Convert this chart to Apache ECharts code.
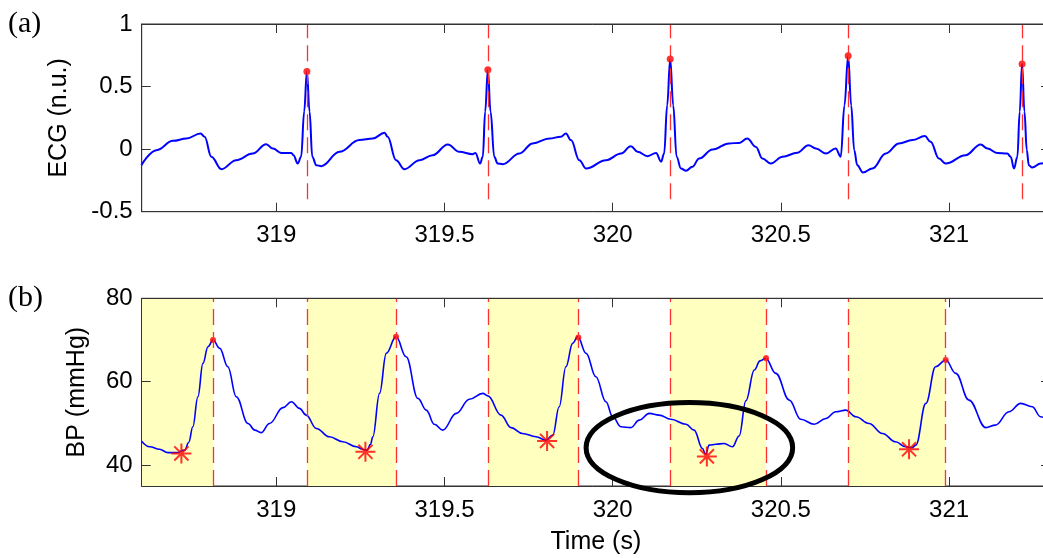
<!DOCTYPE html>
<html>
<head>
<meta charset="utf-8">
<script src="https://cdn.jsdelivr.net/npm/echarts@6/dist/echarts.min.js"></script>
<style>
html,body{margin:0;padding:0;background:#fff;}
#chart{width:1043px;height:558px;}
</style>
</head>
<body>
<div id="chart"></div>
<script>
// ---------- data ----------
const xTicks = [319, 319.5, 320, 320.5, 321];
const ecgTicks = [-0.5, 0, 0.5, 1];
const bpTicks = [40, 60, 80];

const ecgT = [318.599,318.644,318.693,318.733,318.775,318.787,318.807,318.837,318.881,318.930,318.970,318.990,319.015,319.045,319.051,319.064,319.074,319.083,319.091,319.099,319.107,319.119,319.134,319.188,319.247,319.287,319.322,319.331,319.356,319.381,319.426,319.465,319.510,319.544,319.584,319.592,319.606,319.614,319.621,319.629,319.637,319.648,319.658,319.673,319.723,319.762,319.812,319.846,319.861,319.876,319.901,319.921,319.980,320.025,320.054,320.074,320.104,320.129,320.144,320.153,320.162,320.171,320.180,320.190,320.203,320.218,320.237,320.257,320.297,320.346,320.376,320.400,320.426,320.445,320.470,320.505,320.549,320.582,320.604,320.634,320.663,320.678,320.689,320.700,320.709,320.718,320.727,320.744,320.772,320.812,320.851,320.891,320.928,320.945,320.970,320.990,321.049,321.094,321.114,321.143,321.173,321.183,321.193,321.203,321.210,321.217,321.224,321.231,321.237,321.247,321.272,321.297];
const ecgV = [-0.128,-0.008,0.066,0.085,0.125,0.099,-0.061,-0.160,-0.088,-0.035,0.040,0.005,-0.030,-0.030,-0.048,-0.115,-0.060,0.300,0.620,0.300,-0.060,-0.128,-0.136,-0.021,0.072,0.085,0.131,0.099,-0.088,-0.160,-0.088,-0.048,0.038,-0.021,-0.040,-0.030,-0.115,-0.060,0.300,0.634,0.300,-0.061,-0.115,-0.120,-0.035,0.046,0.085,0.099,0.125,0.072,-0.088,-0.155,-0.088,-0.035,0.024,-0.021,-0.056,-0.030,-0.100,-0.035,0.350,0.720,0.350,-0.061,-0.155,-0.173,-0.141,-0.075,-0.003,0.046,0.050,0.085,0.018,-0.075,-0.115,-0.061,-0.029,0.032,0.005,-0.035,0.005,-0.061,0.350,0.746,0.350,-0.008,-0.128,-0.187,-0.155,-0.035,0.046,0.072,0.104,0.059,-0.075,-0.115,-0.048,0.038,0.005,-0.030,-0.035,-0.061,-0.155,-0.061,0.300,0.680,0.300,-0.008,-0.128,-0.147,-0.115,-0.100];

const rPeakT = [319.091, 319.629, 320.171, 320.700, 321.217];
const rPeakV = [0.620, 0.634, 0.720, 0.746, 0.680];
const rMarkLow = -0.4;

const bpT = [318.599,318.624,318.653,318.678,318.703,318.728,318.740,318.752,318.767,318.782,318.797,318.812,318.832,318.856,318.881,318.916,318.936,318.955,318.980,319.020,319.045,319.069,319.089,319.119,319.158,319.198,319.238,319.257,319.270,319.280,319.287,319.307,319.327,319.356,319.386,319.421,319.446,319.470,319.495,319.535,319.574,319.614,319.629,319.668,319.698,319.732,319.772,319.802,319.822,319.841,319.861,319.881,319.896,319.921,319.950,319.980,320.000,320.025,320.054,320.079,320.109,320.138,320.173,320.218,320.242,320.267,320.276,320.287,320.307,320.331,320.356,320.376,320.396,320.421,320.438,320.455,320.485,320.525,320.559,320.599,320.634,320.663,320.693,320.723,320.762,320.802,320.841,320.871,320.890,320.901,320.931,320.960,320.990,321.020,321.059,321.109,321.138,321.178,321.213,321.247,321.272,321.297];
const bpV = [45.8,44.4,43.8,43.0,43.0,43.6,45.5,49.2,56.4,64.4,68.4,70.0,68.0,63.6,56.4,50.0,48.4,47.8,50.0,53.8,55.2,53.6,52.0,48.8,46.8,45.6,44.4,43.8,43.6,45.0,46.8,57.2,66.8,70.8,66.0,56.0,53.2,49.8,48.4,52.4,55.8,57.2,56.6,52.0,49.0,47.6,46.8,46.0,47.2,54.0,63.6,69.2,70.8,66.8,61.2,55.2,51.6,49.2,49.0,50.8,52.4,52.0,51.0,49.8,48.4,44.0,42.6,44.8,45.0,45.2,44.4,47.0,55.4,62.8,65.0,65.6,62.0,55.6,51.0,49.8,51.2,52.8,53.2,51.6,50.0,47.6,45.6,44.4,44.2,44.8,54.8,63.6,65.2,62.0,55.6,49.0,49.6,52.8,54.8,54.0,51.6,50.5];

const sysPeakT = [318.812, 319.356, 319.898, 320.456, 320.990];
const sysPeakV = [70.0, 70.8, 70.6, 65.6, 65.2];
const footT = [318.718, 319.265, 319.805, 320.280, 320.881];
const footV = [42.8, 43.2, 45.8, 42.1, 43.8];
const windowStart = [318.55, 319.091, 319.629, 320.171, 320.700];

const annCenter = [320.228, 44.2];
const annRadius = [0.307, 10.8];

// ---------- chart ----------
const X_MIN = 318.6, X_MAX = 321.3;
const FONT = '"Liberation Sans", Arial, sans-serif';
const AX = '#333';
const zip = (a, b) => a.map((v, i) => [v, b[i]]);
const asterisk = 'path://M0 9H20V11H0Z M9 0H11V20H9Z M3.64 2.22L17.78 16.36L16.36 17.78L2.22 3.64Z M17.78 3.64L3.64 17.78L2.22 16.36L16.36 2.22Z';

function xAxisCfg(grid, pos, showLabel, name) {
  return {
    type: 'value', gridIndex: grid, position: pos, min: X_MIN, max: X_MAX, z: 10,
    axisLine: {show: true, onZero: false, lineStyle: {color: AX, width: 1}},
    axisTick: {show: true, inside: true, length: 9, customValues: xTicks, lineStyle: {color: AX}},
    axisLabel: {show: showLabel, customValues: xTicks, color: '#000', fontSize: 24, fontFamily: FONT, margin: 12},
    splitLine: {show: false},
    name: name || '', nameLocation: 'middle', nameGap: 44,
    nameTextStyle: {color: '#000', fontSize: 25, fontFamily: FONT}
  };
}
function yAxisCfg(grid, pos, showLabel, min, max, ticks, name, gap) {
  return {
    type: 'value', gridIndex: grid, position: pos, min: min, max: max, z: 10,
    axisLine: {show: true, onZero: false, lineStyle: {color: AX, width: 1}},
    axisTick: {show: true, inside: true, length: 9, customValues: ticks, lineStyle: {color: AX}},
    axisLabel: {show: showLabel, customValues: ticks, color: '#000', fontSize: 24, fontFamily: FONT, margin: 9},
    splitLine: {show: false},
    name: name || '', nameLocation: 'middle', nameGap: gap || 0, nameRotate: 90,
    nameTextStyle: {color: '#000', fontSize: 25, fontFamily: FONT}
  };
}

const dash = [16, 7];
const chart = echarts.init(document.getElementById('chart'), null, {renderer: 'canvas'});
chart.setOption({
  animation: false,
  backgroundColor: '#fff',
  grid: [
    {left: 141.7, top: 24, width: 908.3, height: 187.7, show: true, borderColor: AX, borderWidth: 1, outerBoundsMode: 'none'},
    {left: 141.7, top: 298.3, width: 908.3, height: 187.7, show: true, borderColor: AX, borderWidth: 1, outerBoundsMode: 'none'}
  ],
  xAxis: [
    xAxisCfg(0, 'bottom', true),
    xAxisCfg(0, 'top', false),
    xAxisCfg(1, 'bottom', true, 'Time (s)'),
    xAxisCfg(1, 'top', false)
  ],
  yAxis: [
    yAxisCfg(0, 'left', true, -0.5, 1, ecgTicks, 'ECG (n.u.)', 70),
    yAxisCfg(0, 'right', false, -0.5, 1, ecgTicks),
    yAxisCfg(1, 'left', true, 35, 80, bpTicks, 'BP (mmHg)', 52),
    yAxisCfg(1, 'right', false, 35, 80, bpTicks)
  ],
  series: [
    {
      type: 'line', xAxisIndex: 0, yAxisIndex: 0, data: zip(ecgT, ecgV),
      showSymbol: false, smooth: 0.4, smoothMonotone: 'x', clip: true,
      lineStyle: {color: '#0000ff', width: 2}, z: 3,
      markLine: {
        silent: true, symbol: ['none', 'none'], label: {show: false},
        lineStyle: {color: '#ff3030', width: 1.3, type: dash},
        data: rPeakT.map(t => [{coord: [t, rMarkLow]}, {coord: [t, 1]}])
      }
    },
    {
      type: 'scatter', xAxisIndex: 0, yAxisIndex: 0, data: zip(rPeakT, rPeakV),
      symbol: 'circle', symbolSize: 7, itemStyle: {color: '#ff0000'}, z: 4
    },
    {
      type: 'line', xAxisIndex: 2, yAxisIndex: 2, data: zip(bpT, bpV),
      showSymbol: false, smooth: 0.4, smoothMonotone: 'x', clip: true,
      lineStyle: {color: '#0000ff', width: 1.6}, z: 3,
      markArea: {
        silent: true, itemStyle: {color: '#ffffc0'},
        data: windowStart.map((s, i) => [{coord: [Math.max(s, X_MIN), 80]}, {coord: [sysPeakT[i], 35]}])
      },
      markLine: {
        silent: true, symbol: ['none', 'none'], label: {show: false},
        lineStyle: {color: '#ff3030', width: 1.3, type: dash},
        data: windowStart.concat(sysPeakT).filter(t => t > X_MIN).map(t => [{coord: [t, 35]}, {coord: [t, 80]}])
      }
    },
    {
      type: 'scatter', xAxisIndex: 2, yAxisIndex: 2, data: zip(sysPeakT, sysPeakV),
      symbol: 'circle', symbolSize: 6, itemStyle: {color: '#ff0000'}, z: 4
    },
    {
      type: 'scatter', xAxisIndex: 2, yAxisIndex: 2, data: zip(footT, footV),
      symbol: asterisk, symbolSize: 20, itemStyle: {color: '#ff0000'}, z: 5
    }
  ]
});

// annotation ellipse and panel labels
const c = chart.convertToPixel({xAxisIndex: 2, yAxisIndex: 2}, annCenter);
const e = chart.convertToPixel({xAxisIndex: 2, yAxisIndex: 2}, [annCenter[0] + annRadius[0], annCenter[1] + annRadius[1]]);
chart.setOption({
  graphic: [
    {type: 'ellipse', z: 100, shape: {cx: c[0], cy: c[1], rx: Math.abs(e[0] - c[0]), ry: Math.abs(c[1] - e[1])},
     style: {fill: 'none', stroke: '#000', lineWidth: 5}},
    {type: 'text', left: 8, top: 9, z: 100, style: {text: '(a)', font: '30px "Liberation Serif", "Times New Roman", serif', fill: '#000'}},
    {type: 'text', left: 8, top: 283, z: 100, style: {text: '(b)', font: '30px "Liberation Serif", "Times New Roman", serif', fill: '#000'}}
  ]
});
</script>
</body>
</html>
